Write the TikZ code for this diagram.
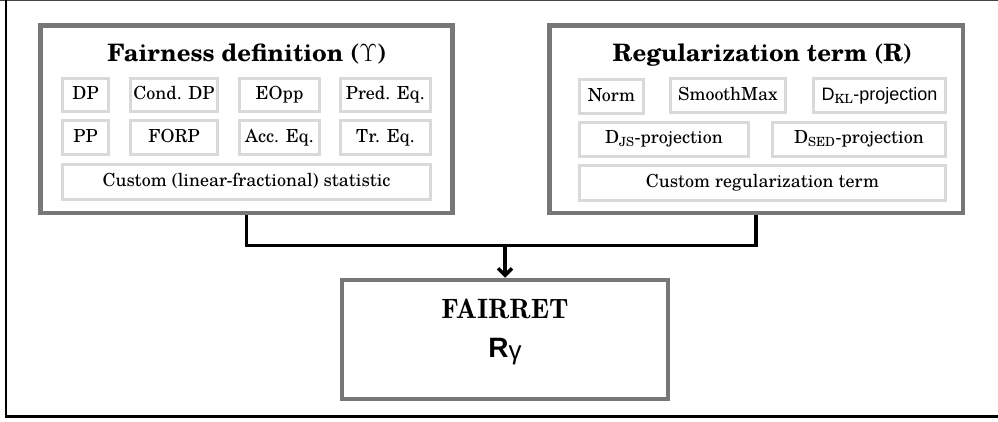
\documentclass[tikz,border=0pt]{standalone}
\usepackage{fontspec}
\setmainfont{texgyreschola}[Extension=.otf, UprightFont=*-regular, BoldFont=*-bold, ItalicFont=*-italic, BoldItalicFont=*-bolditalic]
\newfontfamily\sansf{Liberation Sans}
\usetikzlibrary{arrows.meta}

\definecolor{grpgray}{HTML}{777777}
\definecolor{cellgray}{HTML}{D9D9D9}
\definecolor{edgegray}{HTML}{444444}

\newcommand{\cellfont}{\fontsize{18}{20}\selectfont}

\tikzset{
  group/.style={draw=grpgray, line width=4.5pt, fill=white, inner sep=0pt},
  cell/.style={draw=cellgray, line width=3pt, inner sep=0pt, font=\cellfont,
               text height=13pt, text depth=4pt},
  link/.style={line width=3.5pt, black},
  headline/.style={font=\fontsize{24}{28}\selectfont\bfseries, anchor=base, inner sep=0pt}
}

\begin{document}
\begin{tikzpicture}[x=1pt, y=-1pt]
\useasboundingbox (0,0) rectangle (998,421);

% frame lines
\draw[edgegray, line width=1.2pt] (0,0.6) -- (998,0.6);
\draw[black, line width=2.5pt] (6,0) -- (6,416.5) -- (998,416.5);

% fairness definitions
\node[group, minimum width=412pt, minimum height=187.5pt] (fair) at (246.5,119) {};
\node[headline] (fairT) at (247,61) {Fairness definition ($\Upsilon$)};
\node[cell, minimum width=46pt, minimum height=33pt] (dp)    at (85.5,95)  {DP};
\node[cell, minimum width=87pt, minimum height=33pt] (cdp)   at (174,95)   {Cond. DP};
\node[cell, minimum width=80pt, minimum height=33pt] (eopp)  at (279.5,95) {EOpp};
\node[cell, minimum width=90pt, minimum height=33pt] (pred)  at (385.5,95) {Pred. Eq.};
\node[cell, minimum width=46pt, minimum height=34pt] (pp)    at (85.5,137.5)  {PP};
\node[cell, minimum width=87pt, minimum height=34pt] (forp)  at (174,137.5)   {FORP};
\node[cell, minimum width=80pt, minimum height=34pt] (acc)   at (279.5,137.5) {Acc. Eq.};
\node[cell, minimum width=90pt, minimum height=34pt] (treq)  at (385.5,137.5) {Tr. Eq.};
\node[cell, minimum width=368pt, minimum height=35pt] (cstat) at (246.5,182) {Custom (linear-fractional) statistic};

% regularization terms
\node[group, minimum width=413.5pt, minimum height=187.5pt] (regu) at (756,119) {};
\node[headline] (reguT) at (762.5,61) {Regularization term (R)};
\node[cell, minimum width=64pt, minimum height=34pt]  (norm) at (611.5,96.5) {Norm};
\node[cell, minimum width=115pt, minimum height=34pt] (smax) at (728,95.5)   {SmoothMax};
\node[cell, minimum width=132pt, minimum height=34pt] (dkl)  at (879.5,95.5) {{\sansf D}\textsubscript{KL}{\sansf -projection}};
\node[cell, minimum width=169pt, minimum height=34pt] (djs)  at (664,139)    {D\textsubscript{JS}-projection};
\node[cell, minimum width=173pt, minimum height=34pt] (dsed) at (859,139)    {D\textsubscript{SED}-projection};
\node[cell, minimum width=366pt, minimum height=35pt] (creg) at (762.5,183)  {Custom regularization term};

% combined loss
\node[group, minimum width=326pt, minimum height=119pt] (ret) at (505,339.5) {};
\node[font=\fontfamily{lmr}\fontsize{28}{32}\selectfont\bfseries, anchor=base, inner sep=0pt] (retT) at (505,318) {FAIRRET};
\node[anchor=base, inner sep=0pt] (retR) at (505,357) {\sansf\bfseries\fontsize{28}{32}\selectfont R\raisebox{-2.5pt}{\mdseries\fontsize{26}{28}\selectfont γ}};

% connectors
\coordinate (join) at (505,245.5);
\draw[link] (fair.south) -- (fair.south |- join) -- (regu.south |- join) -- (regu.south);
\draw[link, -{Straight Barb[length=7pt, width=14pt]}] (join) -- (ret.north);
\end{tikzpicture}
\end{document}
